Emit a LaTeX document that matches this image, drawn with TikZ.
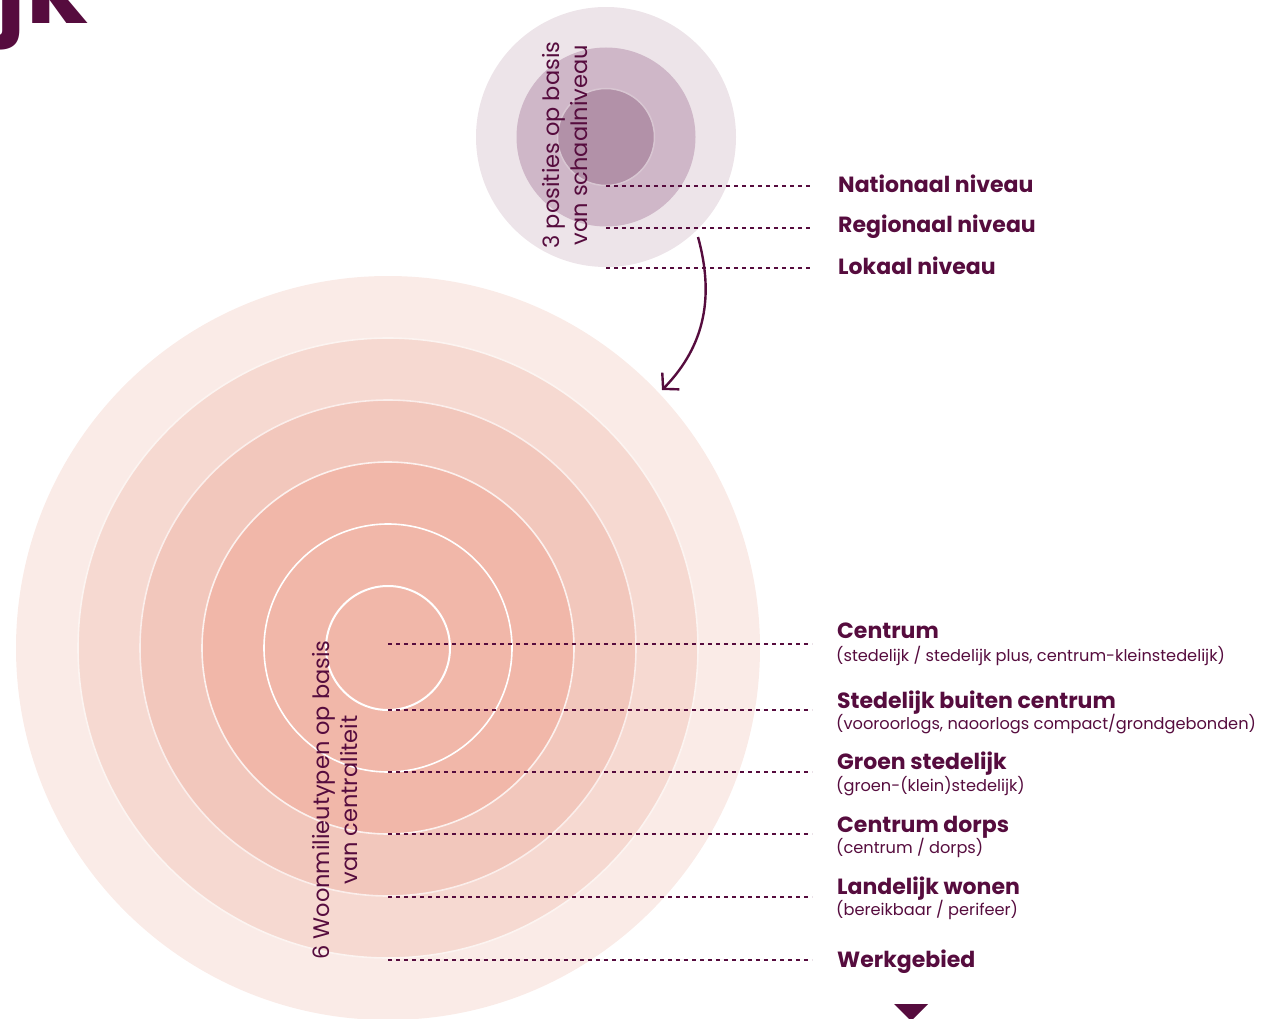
\documentclass[tikz,border=0pt]{standalone}
\usepackage{fontspec}
\setmainfont{Poppins}
\usetikzlibrary{arrows.meta}
\definecolor{plum}{HTML}{560C3E}
\definecolor{pA}{HTML}{EDE4E9}
\definecolor{pB}{HTML}{CFB7C8}
\definecolor{pC}{HTML}{B291A8}
\definecolor{pCedge}{HTML}{D8C6D2}
\definecolor{sA}{HTML}{FAEBE7}
\definecolor{sB}{HTML}{F6D9D1}
\definecolor{sC}{HTML}{F2C7BC}
\definecolor{sD}{HTML}{F1B7A9}
\tikzset{
  lbl/.style={anchor=base west, inner sep=0pt, text=plum, font=\fontsize{22}{28}\selectfont\bfseries},
  sublbl/.style={anchor=base west, inner sep=0pt, text=plum, font=\fontsize{16.2}{20}\selectfont},
  lead/.style={draw=plum, line width=1.2pt, dash pattern=on 4pt off 4pt},
  vlbl/.style={rotate=90, align=center, inner sep=0pt, text=plum, font=\fontsize{22.5}{28}\selectfont},
  ringline/.style={draw=white, line width=1.6pt},
}
\begin{document}
\begin{tikzpicture}[x=1pt,y=-1pt]
\useasboundingbox (0,0) rectangle (1272,1019);
\clip (0,0) rectangle (1272,1019);

% heading fragment
\node[anchor=base east, inner sep=0pt, text=plum, font=\fontsize{100}{100}\selectfont\bfseries] (head) at (88,24) {jk};

% top circles
\coordinate (tc) at (606,137);
\fill[pA] (tc) circle[radius=130pt];
\fill[pB] (tc) circle[radius=89.5pt];
\filldraw[fill=pC, draw=pCedge, line width=1.5pt] (tc) circle[radius=48.5pt];
\node[vlbl] (tlab) at (565,145) {3 posities op basis\\van schaalniveau};

% big circles
\coordinate (bc) at (388,648);
\fill[sA] (bc) circle[radius=372pt];
\filldraw[fill=sB, draw=white!70!sB, line width=1.6pt] (bc) circle[radius=310pt];
\filldraw[fill=sC, draw=white!70!sC, line width=1.6pt] (bc) circle[radius=248pt];
\filldraw[fill=sD, draw=white!80!sD, line width=1.6pt] (bc) circle[radius=186pt];
\draw[ringline] (bc) circle[radius=124pt];
\draw[ringline, line width=2pt] (bc) circle[radius=62pt];
\node[vlbl] (blab) at (335,800) {6 Woonmilieutypen op basis\\van centraliteit};

% top leaders and labels
\coordinate (t1) at (606,186); \coordinate (t1e) at (812,186);
\coordinate (t2) at (606,228); \coordinate (t2e) at (812,228);
\coordinate (t3) at (606,268); \coordinate (t3e) at (812,268);
\draw[lead] (t1) -- (t1e);
\draw[lead] (t2) -- (t2e);
\draw[lead] (t3) -- (t3e);
\node[lbl] (nat) at (838,193) {Nationaal niveau};
\node[lbl] (reg) at (838,233) {Regionaal niveau};
\node[lbl] (lok) at (838,274) {Lokaal niveau};

% arrow
\coordinate (arrS) at (698,237);
\coordinate (arrE) at (662,390);
\draw[plum, line width=2.4pt, -{Straight Barb[length=11pt,width=24pt]}] (arrS) .. controls (714,295) and (706,345) .. (arrE);

% big leaders
\foreach \i/\yy in {1/644,2/710,3/772,4/834,5/897,6/960}{
  \coordinate (b\i) at (388,\yy);
  \coordinate (b\i e) at (812,\yy);
  \draw[lead] (b\i) -- (b\i e);
}
\node[lbl] (c1) at (837,638) {Centrum};
\node[sublbl] (s1) at (836,661) {(stedelijk / stedelijk plus, centrum-kleinstedelijk)};
\node[lbl] (c2) at (837,708) {Stedelijk buiten centrum};
\node[sublbl] (s2) at (836,729) {(vooroorlogs, naoorlogs compact/grondgebonden)};
\node[lbl] (c3) at (837,769) {Groen stedelijk};
\node[sublbl] (s3) at (836,791) {(groen-(klein)stedelijk)};
\node[lbl] (c4) at (837,832) {Centrum dorps};
\node[sublbl] (s4) at (836,853) {(centrum / dorps)};
\node[lbl] (c5) at (837,894) {Landelijk wonen};
\node[sublbl] (s5) at (836,915) {(bereikbaar / perifeer)};
\node[lbl] (c6) at (837,967) {Werkgebied};

% bottom marker
\fill[plum] (894,1004) -- (928,1004) -- (911,1021) -- cycle;
\end{tikzpicture}
\end{document}
